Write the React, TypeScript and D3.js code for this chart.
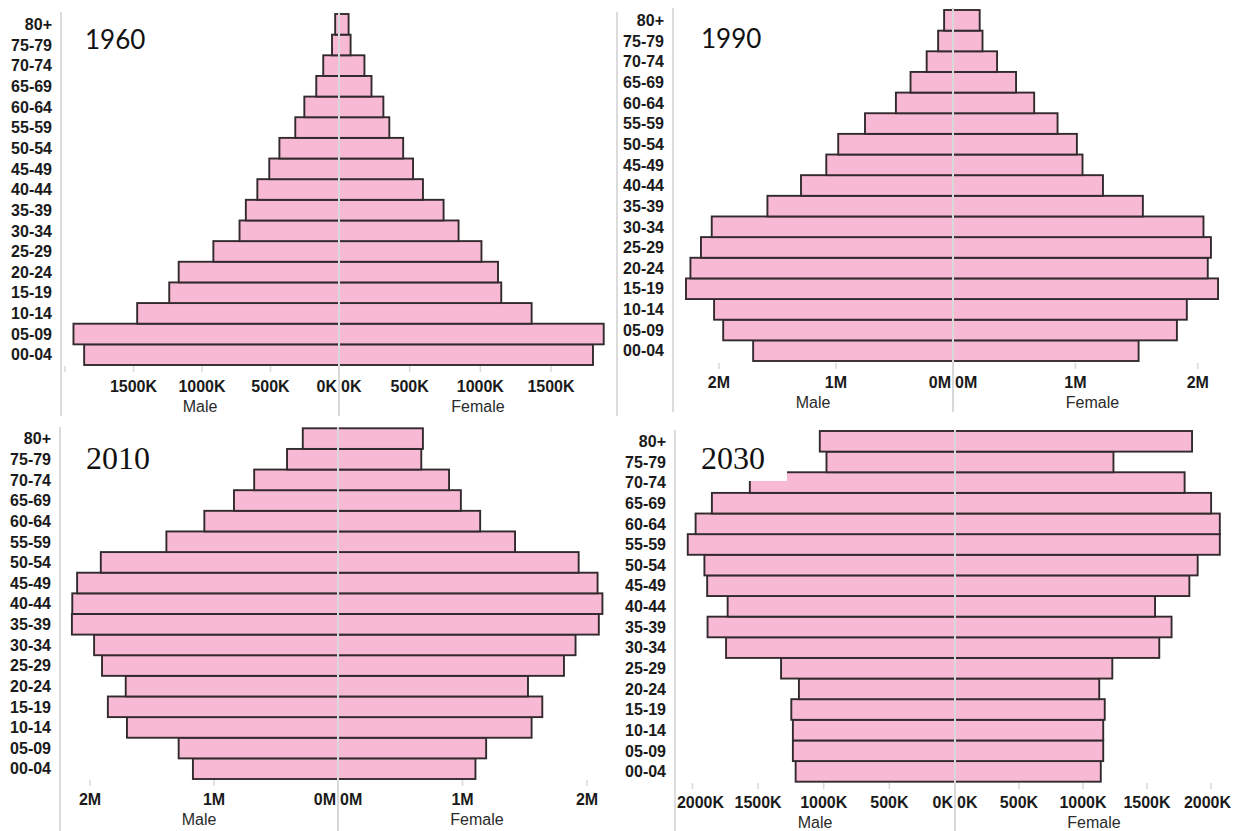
import React from "react";
import * as d3 from "d3";

// ---------- DATA (thousands of people) ----------
const ageGroups = ["00-04","05-09","10-14","15-19","20-24","25-29","30-34","35-39","40-44","45-49","50-54","55-59","60-64","65-69","70-74","75-79","80+"];
const years = ["1960", "1990", "2010", "2030"];

const male1960 = [1860, 1938, 1473, 1239, 1170, 917, 726, 680, 596, 509, 435, 319, 253, 166, 115, 51, 28];
const female1960 = [1797, 1873, 1363, 1148, 1125, 1008, 846, 740, 594, 524, 454, 356, 314, 230, 180, 82, 68];

const male1990 = [1708, 1964, 2042, 2282, 2244, 2154, 2062, 1586, 1299, 1083, 981, 752, 488, 363, 225, 127, 76];
const female1990 = [1516, 1829, 1910, 2165, 2081, 2107, 2046, 1551, 1225, 1058, 1012, 854, 663, 515, 360, 241, 218];

const male2010 = [1170, 1285, 1702, 1856, 1712, 1903, 1967, 2146, 2143, 2104, 1913, 1384, 1078, 839, 676, 411, 284];
const female2010 = [1104, 1190, 1555, 1641, 1526, 1815, 1908, 2095, 2124, 2085, 1933, 1422, 1142, 987, 892, 669, 682];

const male2030 = [1214, 1235, 1235, 1247, 1189, 1325, 1744, 1885, 1732, 1888, 1909, 2036, 1976, 1852, 1563, 979, 1030];
const female2030 = [1139, 1158, 1158, 1170, 1127, 1229, 1596, 1692, 1563, 1831, 1896, 2069, 2069, 2001, 1794, 1238, 1852];

const kTickValues = [0, 500, 1000, 1500, 2000];
const mTickValues = [0, 1000, 2000];
const sideLabels = ["Male", "Female"];

// ---------- LAYOUT ----------
type Layout = {
  x0: number; cx: number; x1: number;
  top: number; bottom: number;
  maleMax: number; femaleMax: number;
  lineTop: number; lineBottom: number;
  ageRight: number;
  tickY: number; tickLabelY: number; sideLabelY: number;
  titleX: number; titleY: number; titleFont: string; titleSize: number;
  rightBorder: boolean;
  titleBox?: [number, number, number, number];
};

const SANS_TITLE = "Lato, 'Open Sans', 'Noto Sans', sans-serif";
const SERIF_TITLE = "'Liberation Serif', 'Times New Roman', serif";

const layouts: Layout[] = [
  { x0: 61, cx: 339, x1: 617, top: 14, bottom: 365, maleMax: 2029, femaleMax: 1967,
    lineTop: 12, lineBottom: 416, ageRight: 52, tickY: 366, tickLabelY: 391.5, sideLabelY: 411.5,
    titleX: 85, titleY: 49, titleFont: SANS_TITLE, titleSize: 26, rightBorder: true },
  { x0: 673, cx: 953, x1: 1232, top: 10, bottom: 361, maleMax: 2393, femaleMax: 2279,
    lineTop: 8, lineBottom: 412, ageRight: 664, tickY: 363, tickLabelY: 387.5, sideLabelY: 407.5,
    titleX: 701, titleY: 48, titleFont: SANS_TITLE, titleSize: 26, rightBorder: false },
  { x0: 60, cx: 338, x1: 616, top: 428.3, bottom: 779, maleMax: 2242, femaleMax: 2233,
    lineTop: 427, lineBottom: 831, ageRight: 51, tickY: 780, tickLabelY: 805, sideLabelY: 825,
    titleX: 86, titleY: 469, titleFont: SERIF_TITLE, titleSize: 32, rightBorder: false },
  { x0: 675, cx: 955, x1: 1233, top: 431, bottom: 781.7, maleMax: 2133, femaleMax: 2172,
    lineTop: 430, lineBottom: 831, ageRight: 666, tickY: 783, tickLabelY: 808, sideLabelY: 828,
    titleX: 701, titleY: 469, titleFont: SERIF_TITLE, titleSize: 32, rightBorder: false,
    titleBox: [690, 440, 787, 481] },
];

const seriesMale = [male1960, male1990, male2010, male2030];
const seriesFemale = [female1960, female1990, female2010, female2030];
const unitK = [true, false, false, true];

const BAR_FILL = "#f7b9d4";
const BAR_STROKE = "#332a2e";
const LINE = "#d8d8d8";
const TEXT = "#1a1a1a";
const SANS = "'Liberation Sans', Arial, sans-serif";

function Panel({ idx }: { idx: number }) {
  const L = layouts[idx];
  const male = seriesMale[idx];
  const female = seriesFemale[idx];
  const isK = unitK[idx];

  const y = d3.scaleBand<string>()
    .domain([...ageGroups].reverse())
    .range([L.top, L.bottom])
    .padding(0);
  const xm = d3.scaleLinear().domain([0, L.maleMax]).range([L.cx, L.x0]);
  const xf = d3.scaleLinear().domain([0, L.femaleMax]).range([L.cx, L.x1]);

  const ticks = isK ? kTickValues : mTickValues;
  const fmt = (v: number) => (isK ? `${v}K` : `${d3.format("d")(v / 1000)}M`);
  const estW = (s: string) => s.length * 9.4;

  const sideTicks = (scale: d3.ScaleLinear<number, number>, max: number, side: "m" | "f", lo: number, hi: number) =>
    ticks.filter((t) => t <= max).map((t) => {
      const px = scale(t);
      const label = fmt(t);
      let lx = px;
      let anchor: "start" | "middle" | "end" = "middle";
      let show = true;
      if (t === 0) {
        if (side === "m") { lx = L.cx - 2; anchor = "end"; } else { lx = L.cx + 2; anchor = "start"; }
      } else {
        const hw = estW(label) / 2;
        const c = Math.max(lo + hw + 2, Math.min(hi - hw - 2, px));
        if (Math.abs(c - px) > 12) show = false;
        lx = c;
      }
      return (
        <g key={`${side}${t}`}>
          {t !== 0 && <line x1={px} x2={px} y1={L.tickY} y2={L.tickY + 6} stroke={LINE} strokeWidth={1.5} />}
          {show && (
            <text x={lx} y={L.tickLabelY} textAnchor={anchor} fontFamily={SANS} fontWeight="bold" fontSize={16} fill={TEXT}>
              {label}
            </text>
          )}
        </g>
      );
    });

  return (
    <g>
      {/* axis lines */}
      <line x1={L.x0} x2={L.x0} y1={L.lineTop} y2={L.lineBottom} stroke={LINE} strokeWidth={1.8} />
      {L.rightBorder && <line x1={L.x1} x2={L.x1} y1={L.lineTop} y2={L.lineBottom} stroke={LINE} strokeWidth={1.8} />}

      {/* bars */}
      {ageGroups.map((a, i) => {
        const yy = y(a)!;
        const h = y.bandwidth();
        return (
          <g key={a}>
            <rect x={xm(male[i])} y={yy} width={L.cx - xm(male[i])} height={h} fill={BAR_FILL} stroke={BAR_STROKE} strokeWidth={1.9} />
            <rect x={L.cx} y={yy} width={xf(female[i]) - L.cx} height={h} fill={BAR_FILL} stroke={BAR_STROKE} strokeWidth={1.9} />
          </g>
        );
      })}

      {/* center line */}
      <line x1={L.cx} x2={L.cx} y1={L.lineTop} y2={L.lineBottom} stroke={LINE} strokeWidth={2} />

      {/* age labels */}
      {ageGroups.map((a) => (
        <text key={a} x={L.ageRight} y={y(a)! + y.bandwidth() / 2} dy="0.36em" textAnchor="end"
          fontFamily={SANS} fontWeight="bold" fontSize={16} fill={TEXT}>
          {a}
        </text>
      ))}

      {/* ticks */}
      {sideTicks(xm, L.maleMax, "m", L.x0, L.cx)}
      {sideTicks(xf, L.femaleMax, "f", L.cx, L.x1)}

      {/* side labels */}
      <text x={(L.x0 + L.cx) / 2} y={L.sideLabelY} textAnchor="middle" fontFamily={SANS} fontSize={16} fill="#2a2a2a">{sideLabels[0]}</text>
      <text x={(L.cx + L.x1) / 2} y={L.sideLabelY} textAnchor="middle" fontFamily={SANS} fontSize={16} fill="#2a2a2a">{sideLabels[1]}</text>

      {/* title */}
      {L.titleBox && (
        <rect x={L.titleBox[0]} y={L.titleBox[1]} width={L.titleBox[2] - L.titleBox[0]} height={L.titleBox[3] - L.titleBox[1]} fill="#fff" />
      )}
      <text x={L.titleX} y={L.titleY} fontFamily={L.titleFont} fontSize={L.titleSize} fill="#111">{years[idx]}</text>
    </g>
  );
}

export default function App() {
  return (
    <svg width={1237} height={831} style={{ position: "absolute", left: 0, top: 0, background: "#fff" }}>
      {layouts.map((_, i) => (
        <Panel key={i} idx={i} />
      ))}
    </svg>
  );
}
